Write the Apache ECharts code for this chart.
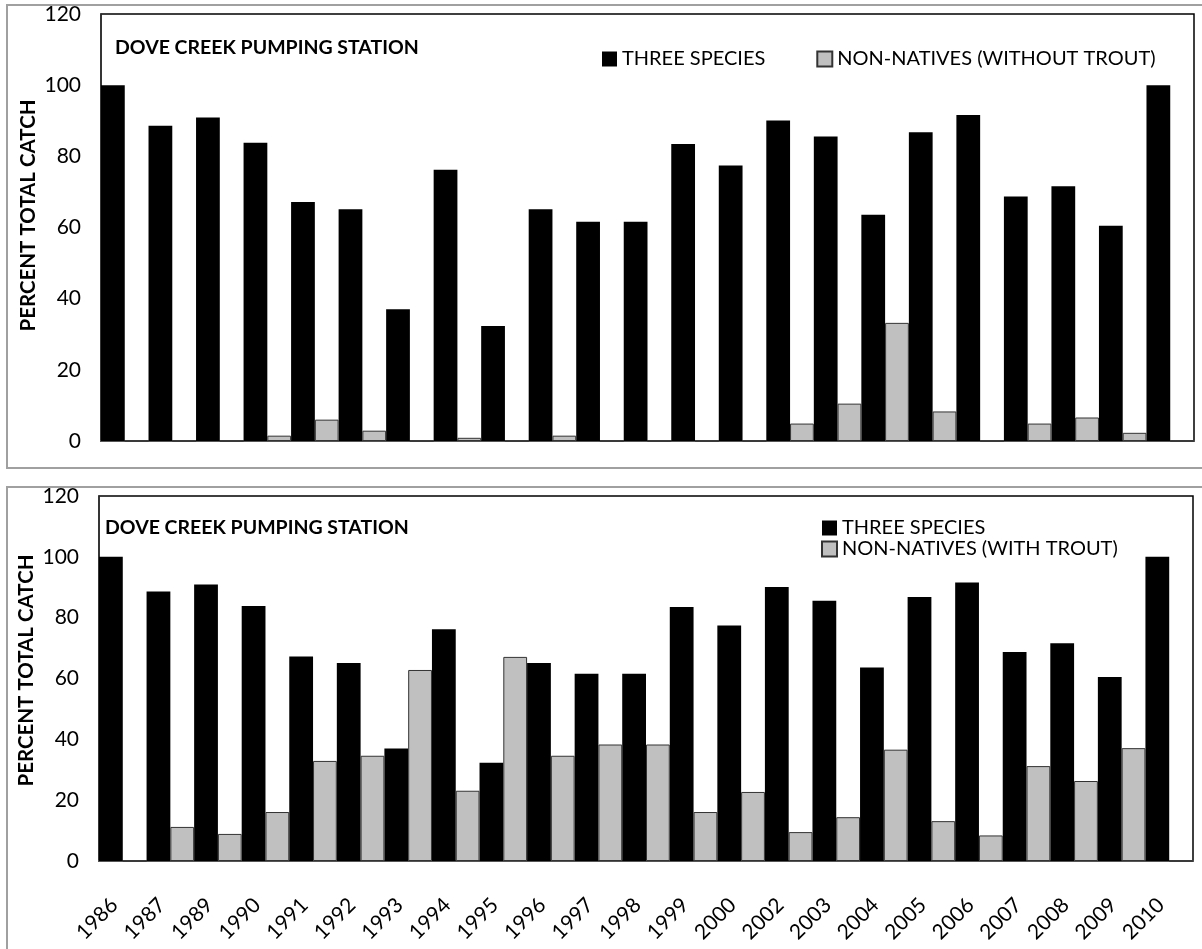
<!DOCTYPE html>
<html>
<head>
<meta charset="utf-8">
<script src="https://cdn.jsdelivr.net/npm/echarts@6/dist/echarts.min.js"></script>
<style>
  html, body { margin: 0; padding: 0; background: #fff; }
  #chart { width: 1202px; height: 949px; }
</style>
</head>
<body>
<div id="chart"></div>
<script>
// data
const years = ['1986', '1987', '1989', '1990', '1991', '1992', '1993', '1994', '1995', '1996', '1997', '1998',
  '1999', '2000', '2002', '2003', '2004', '2005', '2006', '2007', '2008', '2009', '2010'];
const threeSpecies = [100, 88.6, 90.9, 83.8, 67.2, 65.1, 37.0, 76.2, 32.3, 65.1, 61.6, 61.6,
  83.5, 77.4, 90.1, 85.6, 63.6, 86.8, 91.6, 68.7, 71.6, 60.5, 100];
const nonNativesNoTrout = [0, 0, 0, 1.5, 6.0, 2.9, 0, 0.9, 0, 1.5, 0, 0,
  0, 0, 4.9, 10.5, 33.2, 8.3, 0, 4.9, 6.6, 2.3, 0];
const nonNativesTrout = [0, 11.2, 8.9, 16.1, 32.9, 34.6, 62.8, 23.1, 67.1, 34.6, 38.3, 38.3,
  16.1, 22.7, 9.5, 14.4, 36.6, 13.1, 8.4, 31.2, 26.3, 37.1, 0];
const yTicks = { min: 0, max: 120, interval: 20 };

const FONT = 'Lato, "Liberation Sans", sans-serif';

const chart = echarts.init(document.getElementById('chart'));

function yAxisFor(gridIndex, namePad) {
  return {
    type: 'value',
    gridIndex: gridIndex,
    min: yTicks.min,
    max: yTicks.max,
    interval: yTicks.interval,
    name: 'PERCENT TOTAL CATCH',
    nameLocation: 'middle',
    nameRotate: 90,
    nameGap: 62,
    nameMoveOverlap: false,
    nameTextStyle: { fontFamily: FONT, fontWeight: 'bold', fontSize: 20.5, color: '#000', padding: [0, 0, 0, namePad] },
    axisLine: { show: true, lineStyle: { color: '#333', width: 1.5 } },
    axisTick: { show: false },
    splitLine: { show: false },
    axisLabel: { fontFamily: FONT, fontSize: 21, color: '#000', margin: 20 }
  };
}

const option = {
  animation: false,
  backgroundColor: '#fff',
  graphic: [
    { type: 'rect', shape: { x: 7, y: 5, width: 1200, height: 463 }, style: { fill: 'none', stroke: '#a0a0a0', lineWidth: 2 }, z: -10 },
    { type: 'rect', shape: { x: 7, y: 487, width: 1200, height: 470 }, style: { fill: 'none', stroke: '#a0a0a0', lineWidth: 2 }, z: -10 }
  ],
  title: [
    { text: 'DOVE CREEK PUMPING STATION', left: 115, top: 38, padding: 0,
      textStyle: { fontFamily: FONT, fontWeight: 'bold', fontSize: 19.5, color: '#000' } },
    { text: 'DOVE CREEK PUMPING STATION', left: 105, top: 518, padding: 0,
      textStyle: { fontFamily: FONT, fontWeight: 'bold', fontSize: 19.5, color: '#000' } }
  ],
  legend: [
    {
      data: ['THREE SPECIES', 'NON-NATIVES (WITHOUT TROUT)'],
      left: 602, top: 49, padding: 0,
      itemWidth: 15, itemHeight: 15, itemGap: 51,
      icon: 'rect',
      textStyle: { fontFamily: FONT, fontSize: 20, color: '#000' }
    },
    {
      data: [{ name: 'THREE SPECIES ' }, { name: 'NON-NATIVES (WITH TROUT)' }],
      orient: 'vertical',
      left: 821, top: 518, padding: 0,
      itemWidth: 15, itemHeight: 15, itemGap: 1,
      icon: 'rect',
      textStyle: { fontFamily: FONT, fontSize: 20, color: '#000', lineHeight: 18 }
    }
  ],
  grid: [
    { left: 101, top: 14, right: 8, bottom: 508, show: true, borderColor: '#000', borderWidth: 1.5 },
    { left: 99, top: 496, right: 9, bottom: 88, show: true, borderColor: '#000', borderWidth: 1.5 }
  ],
  xAxis: [
    {
      type: 'category', gridIndex: 0, data: years,
      axisLine: { show: true, lineStyle: { color: '#555', width: 2 } },
      axisTick: { show: false },
      axisLabel: { show: false }
    },
    {
      type: 'category', gridIndex: 1, data: years,
      axisLine: { show: true, lineStyle: { color: '#555', width: 2 } },
      axisTick: { show: false },
      axisLabel: { fontFamily: FONT, fontSize: 21, color: '#000', rotate: 45, interval: 0, margin: 32, padding: [0, 12, 0, 0] }
    }
  ],
  yAxis: [yAxisFor(0, 24), yAxisFor(1, 16)],
  series: [
    {
      name: 'THREE SPECIES', type: 'bar', xAxisIndex: 0, yAxisIndex: 0, data: threeSpecies,
      barGap: '0%', barCategoryGap: '0%',
      itemStyle: { color: '#000' }
    },
    {
      name: 'NON-NATIVES (WITHOUT TROUT)', type: 'bar', xAxisIndex: 0, yAxisIndex: 0, data: nonNativesNoTrout,
      barGap: '0%', barCategoryGap: '0%',
      itemStyle: { color: '#c0c0c0', borderColor: '#333', borderWidth: 1 }
    },
    {
      name: 'THREE SPECIES ', type: 'bar', xAxisIndex: 1, yAxisIndex: 1, data: threeSpecies,
      barGap: '0%', barCategoryGap: '0%',
      itemStyle: { color: '#000' }
    },
    {
      name: 'NON-NATIVES (WITH TROUT)', type: 'bar', xAxisIndex: 1, yAxisIndex: 1, data: nonNativesTrout,
      barGap: '0%', barCategoryGap: '0%',
      itemStyle: { color: '#c0c0c0', borderColor: '#333', borderWidth: 1 }
    }
  ]
};

chart.setOption(option);
</script>
</body>
</html>
